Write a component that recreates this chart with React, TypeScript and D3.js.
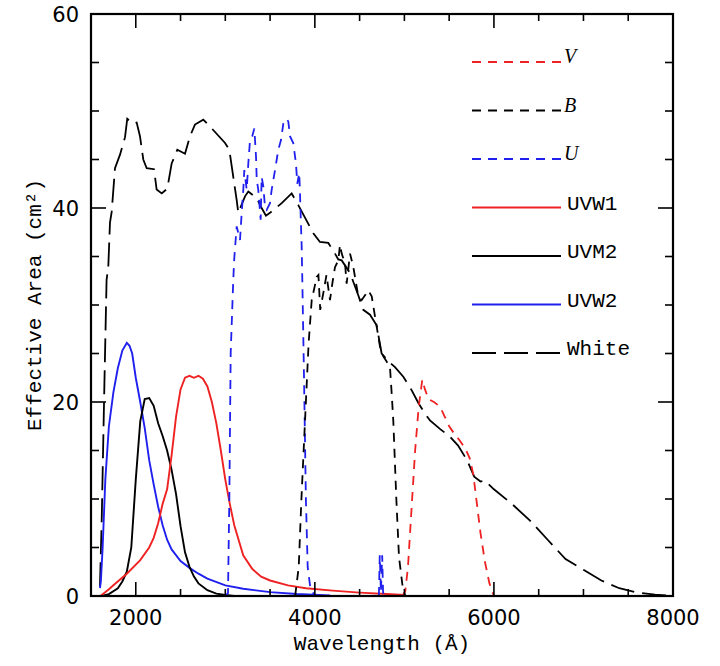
import React from "react";
import * as d3 from "d3";

// ---------- data ----------
const xMajorTicks = [2000, 4000, 6000, 8000];
const yMajorTicks = [0, 20, 40, 60];

const vWave = [4980, 5010, 5040, 5080, 5120, 5160, 5200, 5230, 5270, 5330, 5400, 5450, 5500, 5560, 5620, 5680, 5730, 5770, 5810, 5850, 5900, 5950, 6000];
const vArea = [0, 0.5, 3, 9, 15, 19.5, 22.3, 21.3, 20.3, 20, 19.5, 18.5, 17.5, 16.7, 16, 15.2, 14.2, 12.5, 9.5, 6.5, 3.5, 1.3, 0];

const bWave = [3780, 3820, 3850, 3890, 3930, 3965, 4000, 4021, 4040, 4060, 4094, 4130, 4169, 4200, 4225, 4262, 4281, 4300, 4337, 4355, 4393, 4430, 4485, 4523, 4560, 4597, 4635, 4672, 4710, 4728, 4765, 4800, 4839, 4858, 4876, 4910, 4940, 4980, 5010];
const bArea = [0, 3, 10, 18, 26, 30.5, 32, 32.9, 33.1, 29.5, 31.2, 33.1, 30.5, 32.5, 33.9, 34.6, 36.2, 35.3, 34.3, 32.2, 35.3, 33.9, 30.9, 30.5, 31, 31.5, 30.9, 28.8, 26.7, 25.7, 24.7, 24.2, 23.6, 20.9, 18.1, 10, 4, 1, 0];

const uWave = [3000, 3030, 3045, 3060, 3089, 3100, 3127, 3164, 3183, 3201, 3212, 3239, 3257, 3276, 3301, 3324, 3343, 3351, 3368, 3395, 3406, 3425, 3443, 3462, 3499, 3518, 3555, 3592, 3622, 3648, 3686, 3704, 3722, 3759, 3789, 3804, 3826, 3834, 3853, 3860, 3880, 3900, 3920, 3950, 4000];
const uArea = [0, 0.3, 10, 25, 32.6, 34.8, 38.1, 36.7, 39.5, 41.9, 43.9, 41.9, 44.6, 47, 47.4, 48.2, 45.3, 42.9, 41.9, 38.8, 43.2, 42.2, 40.1, 39.8, 40.5, 41.9, 43.9, 46, 47, 48.7, 49.2, 48.9, 47.4, 46.7, 44.6, 42.5, 43.6, 41.5, 36, 32.6, 22, 10, 3, 0.8, 0];
const uLeakWave = [4715, 4725, 4738, 4752, 4762, 4772];
const uLeakArea = [0, 4.2, 0.4, 4.2, 0.4, 0];

const uvw1Wave = [1600, 1620, 1700, 1750, 1900, 2050, 2150, 2200, 2250, 2300, 2350, 2400, 2450, 2500, 2550, 2600, 2650, 2700, 2750, 2800, 2850, 2900, 2950, 3000, 3050, 3100, 3200, 3300, 3400, 3500, 3700, 3900, 4200, 4500, 4800, 5000];
const uvw1Area = [0, 0.1, 0.7, 1.1, 2.3, 3.7, 5, 6, 7.5, 9.5, 11, 14.5, 18.5, 21.3, 22.5, 22.7, 22.5, 22.7, 22.4, 21.6, 20, 17.8, 15, 12, 9.5, 7.3, 4.2, 2.8, 2.0, 1.6, 1.1, 0.8, 0.55, 0.35, 0.2, 0.1];

const uvm2Wave = [1620, 1700, 1800, 1850, 1900, 1950, 2000, 2050, 2100, 2150, 2200, 2250, 2300, 2350, 2400, 2450, 2500, 2550, 2600, 2650, 2700, 2800, 2900, 3000, 3100];
const uvm2Area = [0, 0.2, 0.8, 1.5, 2.5, 5, 12, 18, 20.3, 20.4, 19.6, 17.8, 16.5, 15, 13, 10.5, 7.2, 4.5, 3.0, 2.0, 1.3, 0.6, 0.25, 0.1, 0];

const uvw2Wave = [1600, 1610, 1630, 1660, 1700, 1750, 1800, 1850, 1900, 1930, 1960, 2000, 2050, 2100, 2150, 2200, 2250, 2300, 2350, 2400, 2500, 2600, 2700, 2800, 3000, 3200, 3500, 3800, 4170];
const uvw2Area = [0.8, 1.5, 5, 12, 17.5, 21, 23.5, 25.3, 26.1, 25.8, 25, 22.5, 20, 17.3, 14, 11.5, 9.2, 7.3, 5.8, 4.8, 3.6, 2.9, 2.3, 1.8, 1.1, 0.75, 0.4, 0.2, 0.05];

const whiteWave = [1600, 1620, 1650, 1674, 1693, 1712, 1731, 1768, 1824, 1880, 1905, 1966, 2010, 2047, 2084, 2122, 2204, 2233, 2290, 2352, 2401, 2464, 2550, 2606, 2661, 2754, 2829, 2997, 3045, 3089, 3127, 3145, 3220, 3257, 3351, 3406, 3454, 3499, 3630, 3741, 3815, 3983, 4057, 4150, 4225, 4262, 4300, 4393, 4485, 4541, 4616, 4690, 4746, 4820, 4895, 4988, 5082, 5156, 5230, 5286, 5400, 5500, 5600, 5700, 5780, 5850, 5900, 6000, 6200, 6400, 6600, 6800, 7000, 7200, 7400, 7600, 7800, 7950];
const whiteArea = [1, 8, 22, 32.6, 33.9, 38.5, 39.6, 44.1, 45.5, 47.3, 49.2, 48.7, 48.8, 47.4, 45, 44.1, 44, 41.9, 41.5, 42, 44.6, 46, 45.6, 47.4, 48.6, 49.1, 48.4, 46.7, 46, 43.2, 40.8, 39.5, 41.2, 41.7, 41, 40, 39.2, 39.5, 40.5, 41.5, 40.3, 37.4, 36.5, 36.4, 35.3, 34.7, 34.6, 33.3, 31, 29.5, 29, 27.9, 25, 24.2, 23.6, 22.6, 21.2, 19.9, 18.8, 18.1, 17.2, 16.5, 15.5, 14, 12.3, 11.8, 11.9, 11, 9.5, 7.8, 5.8, 3.8, 2.7, 1.6, 0.8, 0.35, 0.15, 0.05];

// ---------- styles ----------
const RED = "#ee2222";
const BLUE = "#2020ee";
const BLACK = "#000000";
const SHORT = "9,7";
const LONG = "24,8";

type Series = { name: string; italic: boolean; color: string; dash: string | null; parts: [number[], number[]][] };

const series: Series[] = [
  { name: "V", italic: true, color: RED, dash: SHORT, parts: [[vWave, vArea]] },
  { name: "B", italic: true, color: BLACK, dash: SHORT, parts: [[bWave, bArea]] },
  { name: "U", italic: true, color: BLUE, dash: SHORT, parts: [[uWave, uArea], [uLeakWave, uLeakArea]] },
  { name: "UVW1", italic: false, color: RED, dash: null, parts: [[uvw1Wave, uvw1Area]] },
  { name: "UVM2", italic: false, color: BLACK, dash: null, parts: [[uvm2Wave, uvm2Area]] },
  { name: "UVW2", italic: false, color: BLUE, dash: null, parts: [[uvw2Wave, uvw2Area]] },
  { name: "White", italic: false, color: BLACK, dash: LONG, parts: [[whiteWave, whiteArea]] },
];

const W = 720, H = 666;
const L = 91, R = 673, T = 14, B = 596;
const MONO = "'Liberation Mono', 'DejaVu Sans Mono', monospace";
const SANS = "'DejaVu Sans', sans-serif";

export default function App() {
  const x = d3.scaleLinear().domain([1500, 8000]).range([L, R]);
  const y = d3.scaleLinear().domain([0, 60]).range([B, T]);
  const line = d3.line<[number, number]>().x((d) => x(d[0])).y((d) => y(d[1]));

  const xMinor = d3.range(2000, 8000, 500);
  const yMinor = d3.range(5, 60, 5);

  const drawOrder = [6, 5, 4, 3, 2, 1, 0];

  return (
    <svg width={W} height={H} style={{ position: "absolute", left: 0, top: 0, background: "#fff" }}>
      <rect x={0} y={0} width={W} height={H} fill="#fff" />
      {/* curves */}
      <g fill="none">
        {drawOrder.map((i) => {
          const s = series[i];
          return s.parts.map((p, j) => (
            <path
              key={s.name + j}
              d={line(p[0].map((w, k) => [w, p[1][k]] as [number, number])) || ""}
              stroke={s.color}
              strokeWidth={s.dash ? 1.8 : 1.9}
              strokeDasharray={s.dash || undefined}
            />
          ));
        })}
      </g>
      {/* ticks */}
      <g stroke="#000" strokeWidth={1.6}>
        {xMinor.map((v) => {
          const major = xMajorTicks.includes(v);
          const len = major ? 14 : 7;
          return (
            <g key={"xt" + v}>
              <line x1={x(v)} x2={x(v)} y1={B} y2={B - len} />
              <line x1={x(v)} x2={x(v)} y1={T} y2={T + len} />
            </g>
          );
        })}
        {yMinor.map((v) => {
          const major = yMajorTicks.includes(v);
          const len = major ? 15 : 8;
          return (
            <g key={"yt" + v}>
              <line x1={L} x2={L + len} y1={y(v)} y2={y(v)} />
              <line x1={R} x2={R - len} y1={y(v)} y2={y(v)} />
            </g>
          );
        })}
      </g>
      <rect x={L} y={T} width={R - L} height={B - T} fill="none" stroke="#000" strokeWidth={2.2} />
      {/* tick labels */}
      <g fontFamily={SANS} fontSize={21} fill="#000">
        {xMajorTicks.map((v) => (
          <text key={"xl" + v} x={x(v)} y={625} textAnchor="middle">
            {v}
          </text>
        ))}
        {yMajorTicks.map((v) => (
          <text key={"yl" + v} x={79} y={y(v)} dy="0.36em" textAnchor="end">
            {v}
          </text>
        ))}
      </g>
      {/* axis titles */}
      <text x={(L + R) / 2} y={650} textAnchor="middle" fontFamily={MONO} fontSize={21} fill="#000">
        Wavelength (Å)
      </text>
      <text
        transform={`translate(41,${(T + B) / 2}) rotate(-90)`}
        textAnchor="middle"
        fontFamily={MONO}
        fontSize={21}
        fill="#000"
      >
        Effective Area (cm²)
      </text>
      {/* legend */}
      <g>
        {series.map((s, i) => {
          const ly = 62 + i * 48.5;
          return (
            <g key={"lg" + s.name}>
              <line x1={472} x2={561} y1={ly} y2={ly} stroke={s.color} strokeWidth={1.9} strokeDasharray={s.dash || undefined} />
              {s.italic ? (
                <text x={564} y={ly + 1} fontFamily="'Liberation Serif', serif" fontStyle="italic" fontSize={20} fill="#000">
                  {s.name}
                </text>
              ) : (
                <text x={567} y={ly + 2} fontFamily={MONO} fontSize={21} fill="#000">
                  {s.name}
                </text>
              )}
            </g>
          );
        })}
      </g>
    </svg>
  );
}
